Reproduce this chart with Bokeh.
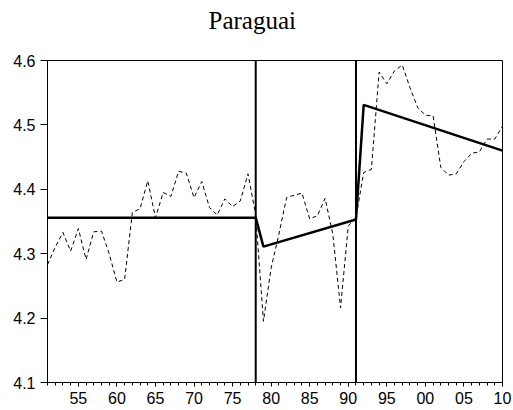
from bokeh.plotting import figure
from bokeh.models import FixedTicker, Span, ColumnDataSource, Title
from bokeh.embed import file_html
from bokeh.resources import INLINE

# ---- data ----
years = list(range(1951, 2011))
series = [4.283, 4.310, 4.333, 4.304, 4.339, 4.291, 4.334, 4.335, 4.300, 4.256,
          4.260, 4.364, 4.370, 4.413, 4.356, 4.395, 4.389, 4.428, 4.425, 4.387,
          4.412, 4.372, 4.360, 4.385, 4.373, 4.382, 4.424, 4.360, 4.195, 4.278,
          4.330, 4.387, 4.391, 4.394, 4.354, 4.359, 4.386, 4.330, 4.216, 4.343,
          4.356, 4.426, 4.431, 4.582, 4.564, 4.584, 4.593, 4.558, 4.527, 4.515,
          4.514, 4.434, 4.422, 4.424, 4.443, 4.456, 4.458, 4.478, 4.478, 4.498]
trend_years = [1951, 1978, 1979, 1991, 1992, 2010]
trend_values = [4.356, 4.356, 4.311, 4.353, 4.531, 4.460]
break_years = [1978, 1991]
x_tick_years = [1955, 1960, 1965, 1970, 1975, 1980, 1985, 1990, 1995, 2000, 2005, 2010]
x_tick_labels = ["55", "60", "65", "70", "75", "80", "85", "90", "95", "00", "05", "10"]
y_ticks = [4.1, 4.2, 4.3, 4.4, 4.5, 4.6]
y_tick_labels = ["4.1", "4.2", "4.3", "4.4", "4.5", "4.6"]
title_text = "Paraguai"

W, H = 513, 410
ML, MR, MT, MB = 47, 11, 60, 28
p = figure(width=W, height=H, output_backend="svg", toolbar_location=None,
           x_range=(1951, 2010), y_range=(4.1, 4.6),
           min_border_left=ML, min_border_right=MR, min_border_top=MT, min_border_bottom=MB)
p.xgrid.visible = False
p.ygrid.visible = False
p.background_fill_color = "white"
p.border_fill_color = "white"
p.outline_line_color = "black"
p.outline_line_width = 1
p.outline_line_alpha = 1.0

# spacer (closest to frame) then the real title
p.add_layout(Title(text=" ", text_font_size="1px", standoff=20), "above")
p.add_layout(Title(text=title_text, align="left", offset=161, standoff=8,
                   text_font="Liberation Serif", text_font_size="25px",
                   text_font_style="normal", text_color="black"), "above")

src = ColumnDataSource(dict(x=years, y=series))
p.line("x", "y", source=src, line_color="black", line_width=1, line_dash="4 3")
tsrc = ColumnDataSource(dict(x=trend_years, y=trend_values))
p.line("x", "y", source=tsrc, line_color="black", line_width=2.5)
for b in break_years:
    p.add_layout(Span(location=b, dimension="height", line_color="black", line_width=2))

xa = p.xaxis[0]
xa.ticker = FixedTicker(ticks=x_tick_years, minor_ticks=years)
xa.major_label_overrides = {t: l for t, l in zip(x_tick_years, x_tick_labels)}
xa.major_tick_out = 4
xa.major_tick_in = 0
xa.minor_tick_out = 3
xa.minor_tick_in = 0
xa.major_label_standoff = 5
xa.axis_line_color = "black"
xa.major_tick_line_color = "black"
xa.minor_tick_line_color = "black"
xa.major_label_text_font = "Liberation Sans"
xa.major_label_text_font_size = "16px"
xa.major_label_text_color = "black"

ya = p.yaxis[0]
ya.ticker = FixedTicker(ticks=y_ticks, minor_ticks=[])
ya.major_label_overrides = {t: l for t, l in zip(y_ticks, y_tick_labels)}
ya.major_tick_out = 7
ya.major_tick_in = 0
ya.minor_tick_line_color = None
ya.major_label_standoff = 5
ya.axis_line_color = "black"
ya.major_tick_line_color = "black"
ya.major_label_text_font = "Liberation Sans"
ya.major_label_text_font_size = "16px"
ya.major_label_text_color = "black"

open("out.html", "w").write(file_html(p, INLINE))
